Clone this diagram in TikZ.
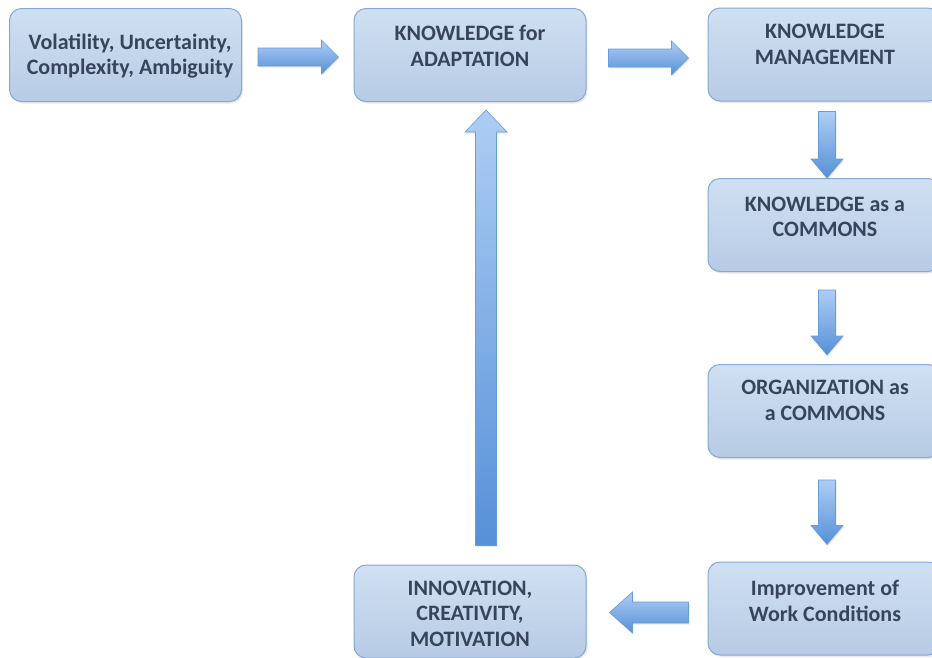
\documentclass[tikz,border=0pt]{standalone}
\usepackage{fontspec}
\setmainfont{Carlito}
\usetikzlibrary{calc,shadows}
\definecolor{boxtop}{HTML}{D0E0F2}
\definecolor{boxbot}{HTML}{B7CBE5}
\definecolor{boxline}{HTML}{86A8D2}
\definecolor{txtc}{HTML}{36455A}
\definecolor{arrtop}{HTML}{AECDF3}
\definecolor{arrbot}{HTML}{5690D8}
\definecolor{arrline}{HTML}{6A9CD9}
\newcommand{\blockarr}[5]{%
  \coordinate (hb) at ($(#2)!#5!(#1)$);
  \path[barrow] ($(#1)!#3!90:(#2)$) -- ($(hb)!#3!90:(#2)$) -- ($(hb)!#4!90:(#2)$) -- (#2)
     -- ($(hb)!#4!-90:(#2)$) -- ($(hb)!#3!-90:(#2)$) -- ($(#1)!#3!-90:(#2)$) -- cycle;
}
\begin{document}
\begin{tikzpicture}[x=1pt,y=-1pt,
  box/.style={draw=boxline, line width=1pt, rounded corners=12pt,
    top color=boxtop, bottom color=boxbot, minimum width=232pt, minimum height=93pt,
    inner sep=0pt, drop shadow={opacity=0.18, shadow xshift=1.5pt, shadow yshift=-2pt}},
  txt/.style={font=\bfseries\fontsize{22}{25.5}\selectfont, text=txtc, align=center, inner sep=0pt},
  barrow/.style={draw=arrline, line width=0.6pt, top color=arrtop, bottom color=arrbot,
    drop shadow={opacity=0.18, shadow xshift=1pt, shadow yshift=-1.5pt}}]
\useasboundingbox (0,0) rectangle (932,657);
\clip (0,0) rectangle (932,657);
% boxes
\node[box] (vuca) at (125.5,55) {};
\node[box] (kfa) at (470,55) {};
\node[box] (km) at (824,54.5) {};
\node[box] (kac) at (824,225) {};
\node[box] (oac) at (824,411) {};
\node[box] (iwc) at (824,608.5) {};
\node[box] (icm) at (470,611.5) {};
% texts
\node[txt] (vucat) at (130,56) {Volatility, Uncertainty,\\Complexity, Ambiguity};
\node[txt] (kfat) at (470,46) {KNOWLEDGE for\\ADAPTATION};
\node[txt] (kmt) at (825,44.5) {KNOWLEDGE\\MANAGEMENT};
\node[txt] (kact) at (825,217) {KNOWLEDGE as a\\COMMONS};
\node[txt] (oact) at (825,400.5) {ORGANIZATION as\\a COMMONS};
\node[txt] (iwct) at (825,601) {Improvement of\\Work Conditions};
\node[txt] (icmt) at (470,613.5) {INNOVATION,\\CREATIVITY,\\MOTIVATION};
% arrow end points
\coordinate (a1s) at ($(vuca.east)+(16,2)$);
\coordinate (a1e) at ($(kfa.west)+(-15,2)$);
\coordinate (a2s) at ($(kfa.east)+(22,3)$);
\coordinate (a2e) at ($(km.west)+(-19,3.5)$);
\coordinate (d1s) at ($(km.south)+(3,10)$);
\coordinate (d1e) at ($(kac.north)+(3,0)$);
\coordinate (d2s) at ($(kac.south)+(3,18)$);
\coordinate (d2e) at ($(oac.north)+(3,-9)$);
\coordinate (d3s) at ($(oac.south)+(3,22)$);
\coordinate (d3e) at ($(iwc.north)+(3,-17)$);
\coordinate (ls) at ($(iwc.west)+(-19,4)$);
\coordinate (le) at ($(icm.east)+(23,1)$);
\coordinate (us) at ($(icm.north)+(16,-19)$);
\coordinate (ue) at ($(kfa.south)+(16,8)$);
% arrows
\blockarr{a1s}{a1e}{9pt}{17pt}{17pt}
\blockarr{a2s}{a2e}{9pt}{17pt}{17pt}
\blockarr{d1s}{d1e}{8.5pt}{16pt}{19pt}
\blockarr{d2s}{d2e}{8.5pt}{16pt}{19pt}
\blockarr{d3s}{d3e}{8.5pt}{16pt}{19pt}
\blockarr{ls}{le}{10.5pt}{20.5pt}{23pt}
\blockarr{us}{ue}{10.5pt}{21pt}{22pt}
\end{tikzpicture}
\end{document}
